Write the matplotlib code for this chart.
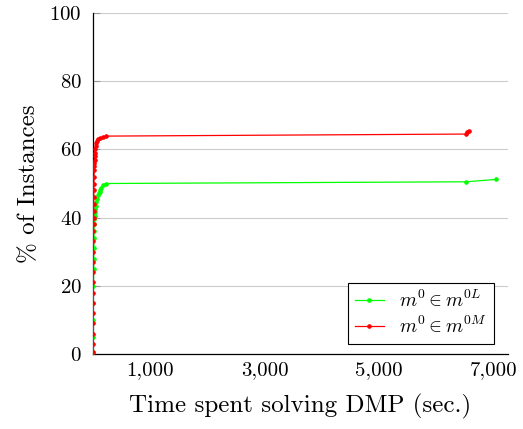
import matplotlib
matplotlib.use("Agg")
import matplotlib.pyplot as plt

plt.rcParams['font.family'] = ['cmr10', 'DejaVu Sans']
plt.rcParams['mathtext.fontset'] = 'cm'
plt.rcParams['axes.formatter.use_mathtext'] = True

# Data (time in seconds, % of instances solved)
red_x = [0, 1, 1, 2, 2, 3, 3, 4, 5, 5, 6, 7, 8, 9, 10, 11, 12, 13, 14, 16, 18, 20, 22, 25,
         28, 32, 36, 40, 45, 55, 70, 90, 125, 180, 235, 6520, 6540, 6560]
red_y = [0.5, 3, 6, 9, 12, 15, 18, 21, 24, 27, 30, 33, 36, 38, 40, 42, 44, 46, 48, 50, 52, 54, 55, 56,
         57, 58, 59, 60, 61, 62, 62.5, 63, 63.3, 63.6, 63.9, 64.5, 65.0, 65.5]

green_x = [0, 2, 4, 6, 8, 10, 12, 14, 16, 18, 20, 25, 30, 35, 40, 50, 60, 70, 84, 100, 114,
           130, 143, 170, 230, 6520, 7040]
green_y = [0.5, 5, 10, 15, 20, 25, 28, 31, 34, 36, 38, 39.5, 40.5, 41.5, 42.5, 43.5, 44.5, 45.5,
           46.6, 47.2, 47.6, 48.2, 48.6, 49.5, 50.0, 50.5, 51.2]

xticks = [1000, 3000, 5000, 7000]
xtick_labels = ["1,000", "3,000", "5,000", "7,000"]
yticks = [0, 20, 40, 60, 80, 100]

fig = plt.figure(figsize=(5.23, 4.29), dpi=100)
ax = fig.add_axes([93/523, 75/429, 415/523, 341/429])

ax.plot(green_x, green_y, color='#00ff00', lw=0.9, marker='o', ms=2.3,
        label=r'$m^0 \in m^{0L}$', zorder=3)
ax.plot(red_x, red_y, color='#ff0000', lw=0.9, marker='o', ms=2.3,
        label=r'$m^0 \in m^{0M}$', zorder=4)

ax.set_xlim(0, 7250)
ax.set_ylim(0, 100)
ax.set_xticks(xticks)
ax.set_xticklabels(xtick_labels)
ax.set_yticks(yticks)
ax.yaxis.grid(True, color='#cccccc', lw=0.8)
ax.set_axisbelow(True)

for s in ['top', 'right']:
    ax.spines[s].set_visible(False)
for s in ['left', 'bottom']:
    ax.spines[s].set_linewidth(0.9)
    ax.spines[s].set_color('black')

ax.tick_params(axis='x', length=0, labelsize=15, pad=5)
ax.tick_params(axis='y', direction='in', length=5, color='#999999', labelsize=15, pad=8)

ax.set_xlabel('Time spent solving DMP (sec.)', fontsize=18, labelpad=11)
ax.set_ylabel('% of Instances', fontsize=18, labelpad=7)

leg = ax.legend(loc='lower right', bbox_to_anchor=(0.966, 0.029), fontsize=14,
                frameon=True, fancybox=False, framealpha=1, edgecolor='black',
                handlelength=1.5, borderpad=0.35, labelspacing=0.25, borderaxespad=0)
leg.get_frame().set_linewidth(0.8)

fig.savefig('out.png', dpi=100)
